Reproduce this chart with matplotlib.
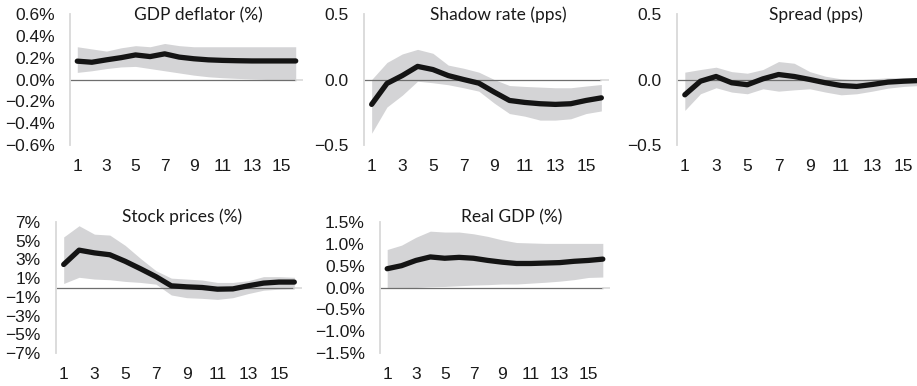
import numpy as np
import matplotlib.pyplot as plt

horizon = np.arange(1, 17)

# impulse responses: point estimate and error band
gdp_defl = [0.168, 0.158, 0.18, 0.20, 0.225, 0.21, 0.235, 0.205, 0.19, 0.18, 0.175, 0.172, 0.17, 0.17, 0.17, 0.17]
gdp_defl_hi = [0.30, 0.28, 0.26, 0.29, 0.31, 0.30, 0.33, 0.31, 0.30, 0.30, 0.30, 0.30, 0.30, 0.30, 0.30, 0.30]
gdp_defl_lo = [0.065, 0.08, 0.10, 0.115, 0.12, 0.10, 0.08, 0.06, 0.04, 0.025, 0.016, 0.01, 0.005, 0.0, 0.0, 0.0]

shadow = [-0.19, -0.03, 0.03, 0.10, 0.076, 0.03, 0.0, -0.028, -0.096, -0.16, -0.175, -0.185, -0.19, -0.185, -0.16, -0.14]
shadow_hi = [0.0, 0.13, 0.195, 0.23, 0.20, 0.11, 0.086, 0.056, 0.0, -0.046, -0.053, -0.058, -0.063, -0.063, -0.05, -0.038]
shadow_lo = [-0.41, -0.21, -0.12, -0.013, -0.025, -0.04, -0.063, -0.089, -0.18, -0.26, -0.28, -0.31, -0.31, -0.30, -0.26, -0.24]

spread = [-0.117, -0.013, 0.023, -0.025, -0.04, 0.005, 0.038, 0.023, 0.0, -0.025, -0.046, -0.053, -0.038, -0.02, -0.013, -0.008]
spread_hi = [0.056, 0.076, 0.094, 0.06, 0.048, 0.076, 0.137, 0.124, 0.06, 0.025, 0.005, -0.003, 0.005, 0.013, 0.013, 0.01]
spread_lo = [-0.236, -0.109, -0.063, -0.096, -0.109, -0.071, -0.089, -0.079, -0.071, -0.096, -0.117, -0.109, -0.089, -0.066, -0.053, -0.046]

stocks = [2.46, 3.99, 3.7, 3.5, 2.8, 2.0, 1.16, 0.18, 0.07, 0.0, -0.18, -0.15, 0.18, 0.47, 0.58, 0.58]
stocks_hi = [5.4, 6.6, 5.7, 5.6, 4.5, 3.1, 1.8, 1.0, 0.9, 0.8, 0.54, 0.54, 0.72, 1.16, 1.16, 1.09]
stocks_lo = [0.43, 1.09, 0.9, 0.83, 0.65, 0.54, 0.36, -0.8, -1.09, -1.16, -1.27, -1.09, -0.65, -0.29, -0.18, -0.14]

real_gdp = [0.43, 0.50, 0.62, 0.70, 0.67, 0.69, 0.67, 0.62, 0.58, 0.55, 0.55, 0.56, 0.57, 0.60, 0.62, 0.65]
real_gdp_hi = [0.87, 0.97, 1.15, 1.29, 1.27, 1.27, 1.23, 1.17, 1.09, 1.03, 1.02, 1.01, 1.01, 1.01, 1.01, 1.01]
real_gdp_lo = [0.0, -0.02, 0.0, 0.016, 0.024, 0.04, 0.056, 0.065, 0.08, 0.08, 0.1, 0.12, 0.145, 0.18, 0.23, 0.24]

MINUS = "\u2212"

plt.rcParams["font.family"] = ["Liberation Sans", "DejaVu Sans"]


def fmt(vals, dec, pct):
    out = []
    for v in vals:
        s = f"{abs(v):.{dec}f}" + ("%" if pct else "")
        out.append((MINUS if v < 0 else "") + s)
    return out

W, H = 917, 386
fig = plt.figure(figsize=(W / 100, H / 100), dpi=100)

TITLE_FONT = ["Lato", "DejaVu Sans"]


def panel(px_left, px_right, px_top, px_bottom, mid, hi, lo, ylim, yticks, ylabels, title, title_x, title_y):
    ax = fig.add_axes([px_left / W, 1 - px_bottom / H, (px_right - px_left) / W, (px_bottom - px_top) / H])
    ax.fill_between(horizon, lo, hi, color="#d4d4d6", lw=0, zorder=1)
    ax.plot([0.5, 16], [0, 0], color="#6e6e6e", lw=0.9, zorder=2, solid_capstyle="butt")
    ax.plot([16, 16.5], [0, 0], color="#d9d9d9", lw=1.2, zorder=2)
    ax.plot(horizon, mid, color="#141414", lw=3.8, zorder=3, solid_capstyle="round", solid_joinstyle="round")
    ax.set_xlim(0.5, 16.5)
    ax.set_ylim(*ylim)
    ax.set_xticks(range(1, 16, 2))
    ax.set_xticklabels([str(i) for i in range(1, 16, 2)])
    ax.set_yticks(yticks)
    ax.set_yticklabels(ylabels)
    for sp in ["top", "right", "bottom"]:
        ax.spines[sp].set_visible(False)
    ax.spines["left"].set_color("#d9d9d9")
    ax.spines["left"].set_linewidth(1.3)
    ax.tick_params(length=0, labelsize=12.5, colors="#1a1a1a")
    ax.tick_params(axis="y", pad=11)
    ax.tick_params(axis="x", pad=10)
    ax.patch.set_alpha(0)
    fig.text(title_x / W, 1 - title_y / H, title, ha="center", va="center",
             fontsize=12.5, family=TITLE_FONT, color="#1a1a1a")
    return ax


panel(70, 303, 14, 145, gdp_defl, gdp_defl_hi, gdp_defl_lo, (-0.6, 0.6),
      np.arange(-0.6, 0.61, 0.2), fmt(np.arange(-0.6, 0.61, 0.2), 1, True),
      "GDP deflator (%)", 198, 15)
panel(364, 609, 14, 145, shadow, shadow_hi, shadow_lo, (-0.5, 0.5),
      [-0.5, 0, 0.5], fmt([-0.5, 0, 0.5], 1, False),
      "Shadow rate (pps)", 498, 15)
panel(677, 927, 14, 145, spread, spread_hi, spread_lo, (-0.5, 0.5),
      [-0.5, 0, 0.5], fmt([-0.5, 0, 0.5], 1, False),
      "Spread (pps)", 816, 15)
panel(56, 302, 222, 353, stocks, stocks_hi, stocks_lo, (-7, 7),
      [-7, -5, -3, -1, 1, 3, 5, 7], fmt([-7, -5, -3, -1, 1, 3, 5, 7], 0, True),
      "Stock prices (%)", 182, 217)
panel(380, 610, 222, 353, real_gdp, real_gdp_hi, real_gdp_lo, (-1.5, 1.5),
      np.arange(-1.5, 1.51, 0.5), fmt(np.arange(-1.5, 1.51, 0.5), 1, True),
      "Real GDP (%)", 512, 217)

fig.savefig("out.png", dpi=100)
